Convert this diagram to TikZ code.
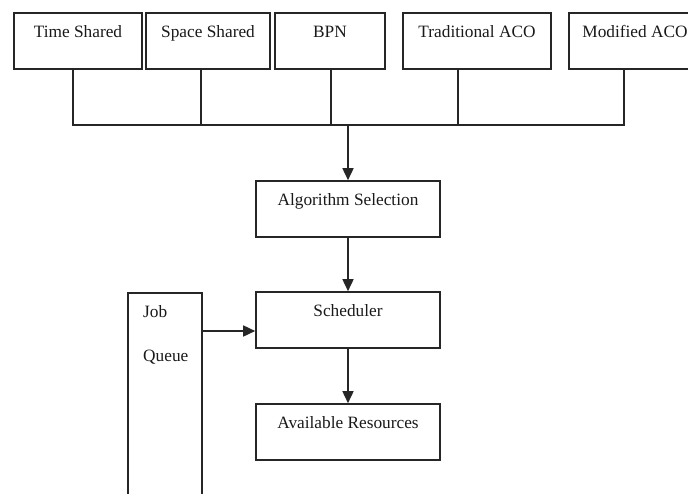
\documentclass[tikz,border=0pt]{standalone}
\usepackage{fontspec}
\setmainfont{Liberation Serif}
\usetikzlibrary{arrows.meta}
\begin{document}
\begin{tikzpicture}[x=1pt,y=-1pt,
  lbl/.style={font=\fontsize{17.3}{20}\selectfont, text=black!90},
  box/.style={lbl, draw=black!85, line width=1.6pt, inner sep=0pt,
    text height=24pt, text depth=32pt},
  conn/.style={draw=black!85, line width=1.6pt},
  arr/.style={conn, -{Triangle[length=12pt,width=11pt]}}]
\useasboundingbox (0,0) rectangle (688,493);
\clip (0,0) rectangle (688,493);

% algorithm choices along the top
\node[box, minimum width=128pt] (ts)  at (78,41)  {Time Shared};
\node[box, minimum width=124pt] (ss)  at (208,41) {Space Shared};
\node[box, minimum width=110pt] (bpn) at (330,41) {BPN};
\node[box, minimum width=148pt] (tra) at (477,41) {Traditional ACO};
\node[box, minimum width=132pt] (mod) at (635,41) {Modified ACO};

% main chain
\node[box, minimum width=184pt] (alg) at (348,209) {Algorithm Selection};
\node[box, minimum width=184pt] (sch) at (348,320) {Scheduler};
\node[box, minimum width=184pt] (res) at (348,432) {Available Resources};

% job queue column
\node[draw=black!85, line width=1.6pt, inner sep=0pt,
      minimum width=74pt, minimum height=240pt] (jq) at (165,413) {};
\node[lbl, anchor=base west, inner sep=0pt] (jobt)   at (143,317) {Job};
\node[lbl, anchor=base west, inner sep=0pt] (queuet) at (143,361) {Queue};

% collector bus
\coordinate (busm) at (348,125);
\coordinate (tsd)  at ([xshift=-5pt]ts.south);
\coordinate (ssd)  at ([xshift=-7pt]ss.south);
\coordinate (bpnd) at ([xshift=1pt]bpn.south);
\coordinate (trad) at ([xshift=-19pt]tra.south);
\coordinate (modd) at ([xshift=-11pt]mod.south);
\draw[conn] (tsd) |- (busm) -| (modd);
\draw[conn] (ssd) -- (ssd |- busm);
\draw[conn] (bpnd) -- (bpnd |- busm);
\draw[conn] (trad) -- (trad |- busm);

% arrows
\draw[arr] (busm) -- (alg.north);
\draw[arr] (alg) -- (sch);
\draw[arr] (sch) -- (res);
\coordinate (jqy) at (0,331);
\draw[arr] (jq.east |- jqy) -- (sch.west |- jqy);
\end{tikzpicture}
\end{document}
